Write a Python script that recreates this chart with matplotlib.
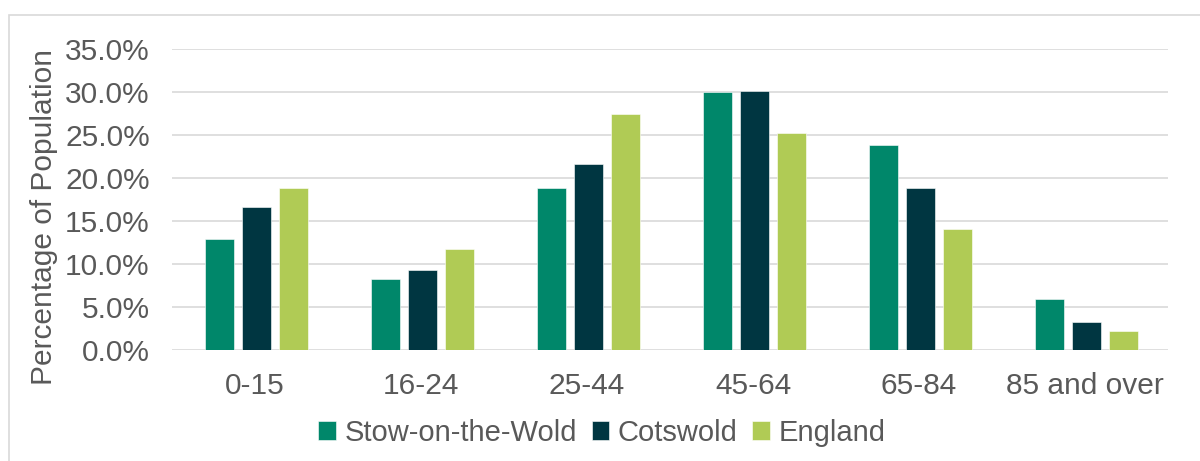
import matplotlib
matplotlib.use("Agg")
import matplotlib.pyplot as plt
import numpy as np
from matplotlib.patches import Rectangle
from matplotlib.ticker import FuncFormatter

categories = ["0-15", "16-24", "25-44", "45-64", "65-84", "85 and over"]
series_names = ["Stow-on-the-Wold", "Cotswold", "England"]
stow = [12.9, 8.3, 18.8, 30.0, 23.9, 5.9]
cotswold = [16.6, 9.3, 21.7, 30.1, 18.9, 3.3]
england = [18.9, 11.8, 27.5, 25.3, 14.1, 2.2]
colors = ["#00876A", "#003641", "#B0CB55"]

plt.rcParams['font.family'] = ['Liberation Sans', 'DejaVu Sans']
text_color = "#595959"

fig = plt.figure(figsize=(12, 4.61), dpi=100)
fig.patches.append(Rectangle((9/1200, -0.1), 1.2, 1 - 15/461 + 0.1, transform=fig.transFigure,
                             fill=False, edgecolor="#D9D9D9", linewidth=1.2, zorder=0))
ax = fig.add_axes([172/1200, 1 - 350/461, (1168-172)/1200, (350-49.3)/461])

x = np.arange(len(categories))
w = 0.175
step = 0.223
for i, (vals, name, c) in enumerate(zip([stow, cotswold, england], series_names, colors)):
    ax.bar(x + (i - 1) * step + 0.01, vals, width=w, color=c, label=name, zorder=3,
           edgecolor="white", linewidth=0.4)

ax.set_ylim(0, 35)
ax.set_xlim(-0.5, len(categories) - 0.5)
ax.set_yticks(np.arange(0, 35.1, 5))
ax.yaxis.set_major_formatter(FuncFormatter(lambda v, p: f"{v:.1f}%"))
ax.set_xticks(x)
ax.set_xticklabels(categories)
ax.grid(axis="y", color="#D9D9D9", linewidth=1.2, zorder=0)
for s in ax.spines.values():
    s.set_visible(False)
ax.tick_params(axis="both", length=0, labelsize=21.5, colors=text_color)
ax.tick_params(axis="y", pad=16)
ax.tick_params(axis="x", pad=16)
ax.set_ylabel("Percentage of Population", fontsize=21.5, color=text_color)
ax.yaxis.set_label_coords((58 - 172) / 996, (350 - 217) / 300.7)

leg = fig.legend(loc="center", bbox_to_anchor=(602/1200, 1 - 433/461), ncol=3, frameon=False,
                 fontsize=21, handlelength=0.6, handleheight=0.6, handletextpad=0.3,
                 columnspacing=0.5, labelcolor=text_color)

fig.savefig("out.png", dpi=100, facecolor="white")
